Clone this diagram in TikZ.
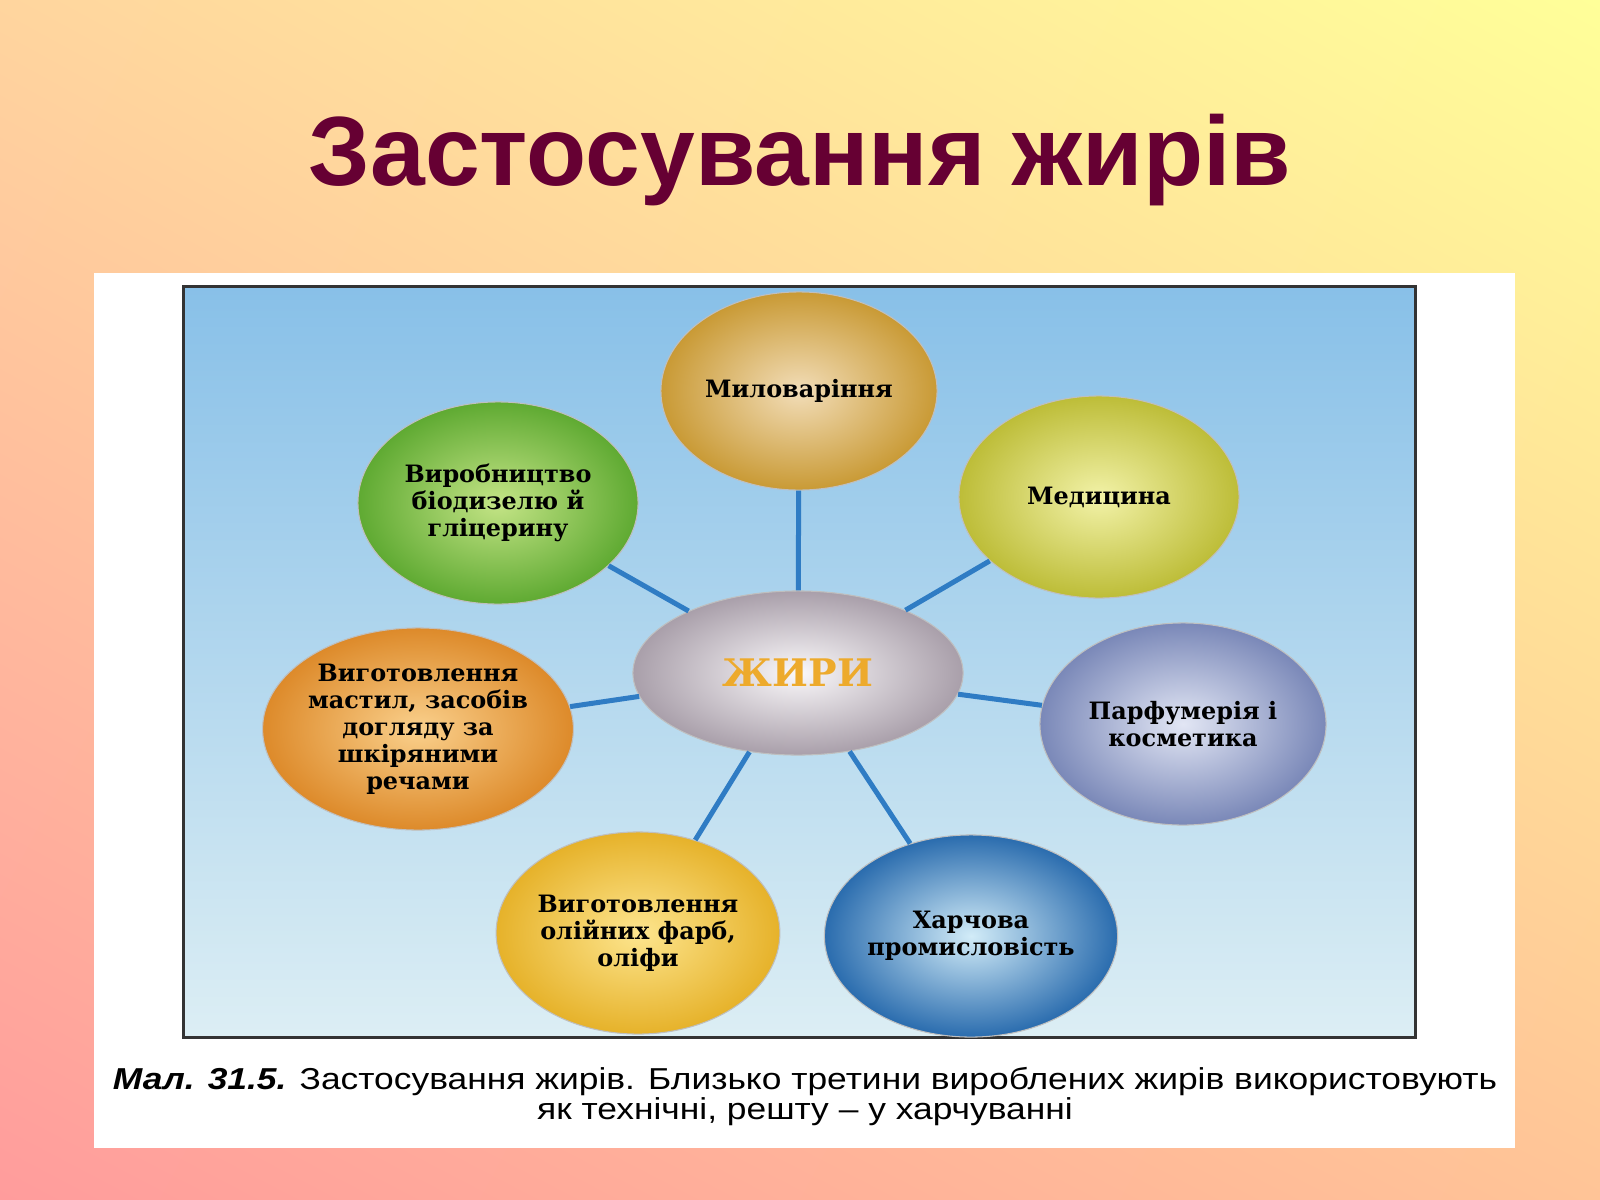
\documentclass[tikz,border=0pt]{standalone}
\usepackage{fontspec}
\setmainfont{DejaVu Serif}
\newfontfamily\headfont{Liberation Sans}
\newfontfamily\capfont[FakeStretch=1.17]{Liberation Sans}
\usepackage{tikz}
\usetikzlibrary{shapes.geometric,shadings}

\definecolor{titlered}{HTML}{660033}
\definecolor{linkblue}{HTML}{2F7CC4}
\definecolor{fatgold}{HTML}{EDAA2C}
\definecolor{bgul}{HTML}{FFD59E}
\definecolor{bgur}{HTML}{FFFF99}
\definecolor{bgll}{HTML}{FF9C9C}
\definecolor{bglr}{HTML}{FFC497}
\definecolor{skytop}{HTML}{88C0E8}
\definecolor{skybot}{HTML}{DCEEF4}

\begin{document}
\begin{tikzpicture}[x=0.01cm,y=-0.01cm,thick]
\tikzstyle{bubble}=[ellipse, minimum width=2.8cm, minimum height=2.02cm, inner sep=0pt, align=center, draw=black!25, line width=0.3pt, font=\fontsize{6.8}{7.7}\selectfont\bfseries]
\tikzstyle{link}=[draw=linkblue, line width=0.5mm]
\useasboundingbox (0,0) rectangle (1600,1200);
% slide background
\shade[upper left=bgul, upper right=bgur, lower left=bgll, lower right=bglr] (0,0) rectangle (1600,1200);
\node[font=\headfont\bfseries\fontsize{28}{32}\selectfont, text=titlered, anchor=base] (title) at (800,185) {Застосування жирів};
% picture from the book
\fill[white] (94,273) rectangle (1515,1148);
\shade[top color=skytop, bottom color=skybot, draw=black!80, line width=0.3mm] (183,286) rectangle (1415,1037);
\node[bubble, minimum width=3.3cm, minimum height=1.64cm, inner color={rgb,255:red,250;green,248;blue,250}, outer color={rgb,255:red,169;green,159;blue,170}] (fat) at (798,673)
     {\fontsize{10.8}{11}\selectfont\color{fatgold}ЖИРИ};
\node[bubble, minimum width=2.76cm, minimum height=1.98cm, inner color={rgb,255:red,242;green,221;blue,184}, outer color={rgb,255:red,201;green,154;blue,53}] (soap) at (799,391) {Миловаріння};
\node[bubble, inner color={rgb,255:red,242;green,242;blue,168}, outer color={rgb,255:red,189;green,189;blue,56}] (med) at (1099,497) {Медицина};
\node[bubble, inner color={rgb,255:red,196;green,228;blue,134}, outer color={rgb,255:red,95;green,170;blue,50}] (bio) at (498,503) {Виробництво\\біодизелю й\\гліцерину};
\node[bubble, minimum width=2.82cm, inner color={rgb,255:red,250;green,208;blue,140}, outer color={rgb,255:red,221;green,138;blue,42}] (oil) at (418,729) {Виготовлення\\мастил, засобів\\догляду за\\шкіряними\\речами};
\node[bubble, minimum width=2.86cm, inner color={rgb,255:red,226;green,230;blue,244}, outer color={rgb,255:red,122;green,136;blue,184}] (perf) at (1183,724) {Парфумерія і\\косметика};
\node[bubble, minimum width=2.76cm, inner color={rgb,255:red,253;green,229;blue,142}, outer color={rgb,255:red,230;green,178;blue,42}] (paint) at (638,933) {Виготовлення\\олійних фарб,\\оліфи};
\node[bubble, inner color={rgb,255:red,210;green,236;blue,248}, outer color={rgb,255:red,42;green,108;blue,174}] (food) at (971,936) {Харчова\\промисловість};
\foreach \n in {soap,med,bio,oil,perf,paint,food}
    \path (fat) edge[link] (\n);
% caption
\node[font=\capfont\fontsize{8.6}{8.5}\selectfont, align=center, anchor=north, inner sep=0pt] (caption) at (805,1066)
     {{\bfseries\itshape Мал. 31.5.} Застосування жирів. Близько третини вироблених жирів використовують\\як технічні, решту – у харчуванні};
\end{tikzpicture}
\end{document}
